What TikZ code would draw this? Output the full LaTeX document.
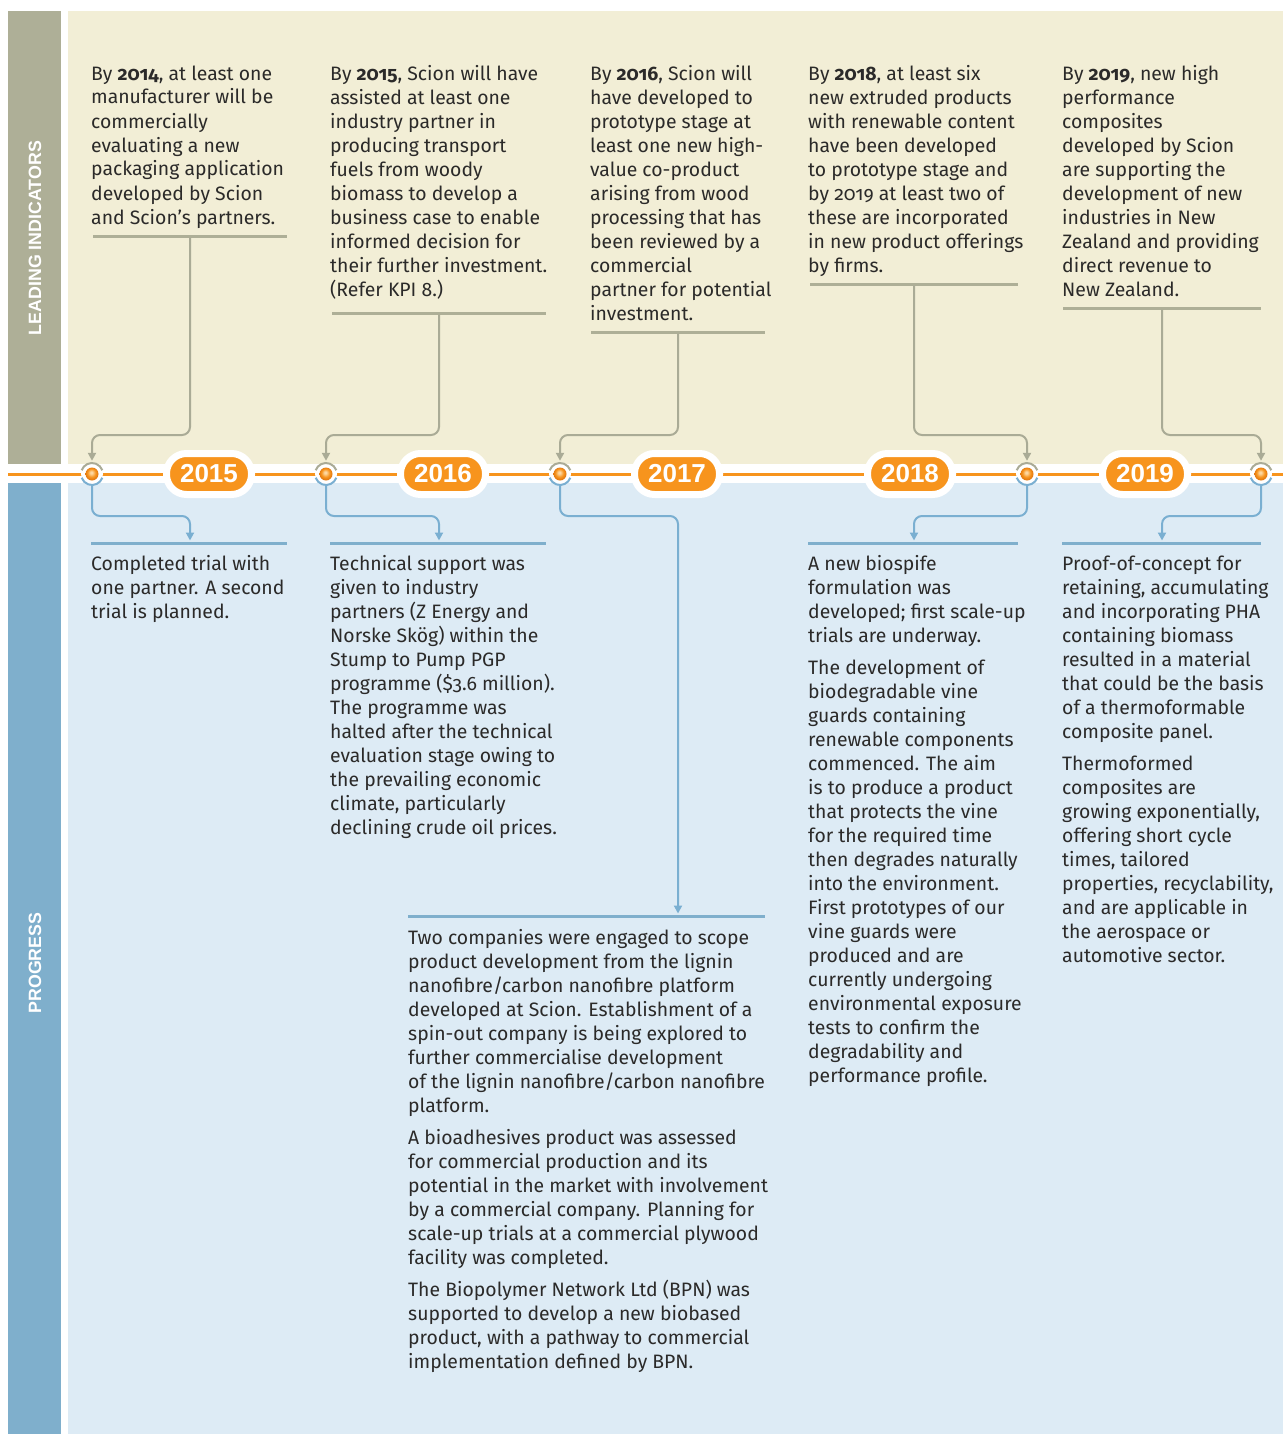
\documentclass[tikz,border=0pt]{standalone}
\usepackage{fontspec}
\setmainfont{Fira Sans}[Numbers=OldStyle]
\newfontfamily\labfont{Liberation Sans}
\usetikzlibrary{arrows.meta}
\definecolor{beigebg}{HTML}{F2EED6}
\definecolor{beigeside}{HTML}{AEAF97}
\definecolor{bluebg}{HTML}{DDEBF5}
\definecolor{blueside}{HTML}{7FAFCC}
\definecolor{orng}{HTML}{F7941D}
\definecolor{txt}{HTML}{2B2A29}
\definecolor{gconnc}{HTML}{AAAB96}
\definecolor{bconnc}{HTML}{7AAFD1}
\definecolor{orbhi}{HTML}{FDD7A0}
\definecolor{orbmid}{HTML}{F7941D}
\definecolor{orbedge}{HTML}{E27810}
\pgfdeclareradialshading{orb}{\pgfpoint{-3bp}{6bp}}{color(0bp)=(orbhi); color(4bp)=(orbhi); color(16bp)=(orbmid); color(25bp)=(orbedge); color(50bp)=(orbedge)}
\newcommand\yr[1]{\textbf{#1}}
\tikzset{
  body/.style={anchor=base west, inner sep=0pt, align=left, text=txt,
    font=\fontsize{19.4}{24}\selectfont},
  side/.style={rotate=90, text=white, inner sep=0pt,
    font=\labfont\bfseries\fontsize{17.8}{20}\selectfont},
  badge/.style={rectangle, rounded corners=20pt, fill=orng, draw=white, line width=7pt,
    minimum width=85pt, minimum height=41pt, inner sep=0pt, text=white,
    font=\labfont\bfseries\fontsize{26}{28}\selectfont},
  mk/.style={circle, fill=white, minimum size=22pt, inner sep=0pt},
  grule/.style={draw=beigeside, line width=3pt},
  brule/.style={draw=blueside, line width=3pt},
  gconn/.style={draw=gconnc, line width=2pt, rounded corners=8pt,
    -{Triangle[width=8pt,length=8pt]}, shorten >=2pt},
  bconn/.style={draw=bconnc, line width=2pt, rounded corners=8pt,
    -{Triangle[width=8pt,length=8pt]}, shorten >=1pt},
  ringg/.style={draw=gconnc, line width=2pt},
  ringb/.style={draw=bconnc, line width=2pt},
}
\begin{document}
\begin{tikzpicture}[x=1pt,y=-1pt]
% background and panels
\fill[white] (0,0) rectangle (1283,1434);
\useasboundingbox (0,0) rectangle (1283,1434);
\fill[beigeside] (8,11) rectangle (61,464);
\fill[beigebg] (68,11) rectangle (1283,464);
\fill[blueside] (8,483) rectangle (61,1434);
\fill[bluebg] (68,483) rectangle (1283,1434);
\node[side] (lead) at (35,238) {LEADING INDICATORS};
\node[side] (prog) at (35,963) {PROGRESS};
% timeline
\draw[orng, line width=3pt] (8,474) -- (1283,474);
\node[badge] (y15) at (209,474) {2015};
\node[badge] (y16) at (443,474) {2016};
\node[badge] (y17) at (677,474) {2017};
\node[badge] (y18) at (910,474) {2018};
\node[badge] (y19) at (1145,474) {2019};
\node[mk] (m1) at (92,474) {};
\node[mk] (m2) at (326,474) {};
\node[mk] (m3) at (560,474) {};
\node[mk] (m4) at (1027,474) {};
\node[mk] (m5) at (1261,474) {};
\foreach \m in {m1,m2,m3,m4,m5}{
  \draw[ringg] (\m.center) ++(200:11) arc[start angle=200, end angle=340, radius=11];
  \draw[ringb] (\m.center) ++(20:11) arc[start angle=20, end angle=160, radius=11];
  \shade[shading=orb] (\m.center) circle[radius=6.5];
}
% rules
\draw[grule] (93,236) -- (287,236);
\draw[grule] (332,313) -- (546,313);
\draw[grule] (591,332) -- (765,332);
\draw[grule] (810,284) -- (1018,284);
\draw[grule] (1063,308) -- (1261,308);
\draw[brule] (91,543) -- (287,543);
\draw[brule] (330,543) -- (546,543);
\draw[brule] (408,916) -- (765,916);
\draw[brule] (808,543) -- (1018,543);
\draw[brule] (1062,543) -- (1261,543);
\coordinate (t1) at (190,237.5);
\coordinate (t2) at (439,314.5);
\coordinate (t3) at (678,333.5);
\coordinate (t4) at (914,285.5);
\coordinate (t5) at (1162,309.5);
\coordinate (b1) at (190,541.5);
\coordinate (b2) at (439,541.5);
\coordinate (b3) at (678,914.5);
\coordinate (b4) at (914,541.5);
\coordinate (b5) at (1162,541.5);
\coordinate (hT) at (0,435);
\coordinate (hB) at (0,516);
% connectors
\foreach \i in {1,...,5}{
  \draw[gconn] (t\i) -- (t\i |- hT) -- (m\i |- hT) -- (m\i.north);
  \draw[bconn] (m\i.south) -- (m\i |- hB) -- (b\i |- hB) -- (b\i);
}
% top texts (anchored at the baseline of the last line)
\node[body] (L1) at (91,224) {By \yr{2014}, at least one\\manufacturer will be\\commercially\\evaluating a new\\packaging application\\developed by Scion\\and Scion’s partners.};
\node[body] (L2) at (330,296) {By \yr{2015}, Scion will have\\assisted at least one\\industry partner in\\producing transport\\fuels from woody\\biomass to develop a\\business case to enable\\informed decision for\\their further investment.\\(Refer KPI 8.)};
\node[body] (L3) at (590,320) {By \yr{2016}, Scion will\\have developed to\\prototype stage at\\least one new high-\\value co-product\\arising from wood\\processing that has\\been reviewed by a\\commercial\\partner for potential\\investment.};
\node[body] (L4) at (808,272) {By \yr{2018}, at least six\\new extruded products\\with renewable content\\have been developed\\to prototype stage and\\by 2019 at least two of\\these are incorporated\\in new product offerings\\by firms.};
\node[body] (L5) at (1062,296) {By \yr{2019}, new high\\performance\\composites\\developed by Scion\\are supporting the\\development of new\\industries in New\\Zealand and providing\\direct revenue to\\New Zealand.};
% bottom texts
\node[body] (P1) at (91,618) {Completed trial with\\one partner. A second\\trial is planned.};
\node[body] (P2) at (330,834) {Technical support was\\given to industry\\partners (Z Energy and\\Norske Skög) within the\\Stump to Pump PGP\\programme (\$3.6 million).\\The programme was\\halted after the technical\\evaluation stage owing to\\the prevailing economic\\climate, particularly\\declining crude oil prices.};
\node[body] (P3) at (408,1368) {Two companies were engaged to scope\\product development from the lignin\\nanofibre/carbon nanofibre platform\\developed at Scion. Establishment of a\\spin-out company is being explored to\\further commercialise development\\of the lignin nanofibre/carbon nanofibre\\platform.\\[8pt]A bioadhesives product was assessed\\for commercial production and its\\potential in the market with involvement\\by a commercial company. Planning for\\scale-up trials at a commercial plywood\\facility was completed.\\[8pt]The Biopolymer Network Ltd (BPN) was\\supported to develop a new biobased\\product, with a pathway to commercial\\implementation defined by BPN.};
\node[body] (P4) at (808,1082) {A new biospife\\formulation was\\developed; first scale-up\\trials are underway.\\[8pt]The development of\\biodegradable vine\\guards containing\\renewable components\\commenced. The aim\\is to produce a product\\that protects the vine\\for the required time\\then degrades naturally\\into the environment.\\First prototypes of our\\vine guards were\\produced and are\\currently undergoing\\environmental exposure\\tests to confirm the\\degradability and\\performance profile.};
\node[body] (P5) at (1062,962) {Proof-of-concept for\\retaining, accumulating\\and incorporating PHA\\containing biomass\\resulted in a material\\that could be the basis\\of a thermoformable\\composite panel.\\[8pt]Thermoformed\\composites are\\growing exponentially,\\offering short cycle\\times, tailored\\properties, recyclability,\\and are applicable in\\the aerospace or\\automotive sector.};
\end{tikzpicture}
\end{document}
